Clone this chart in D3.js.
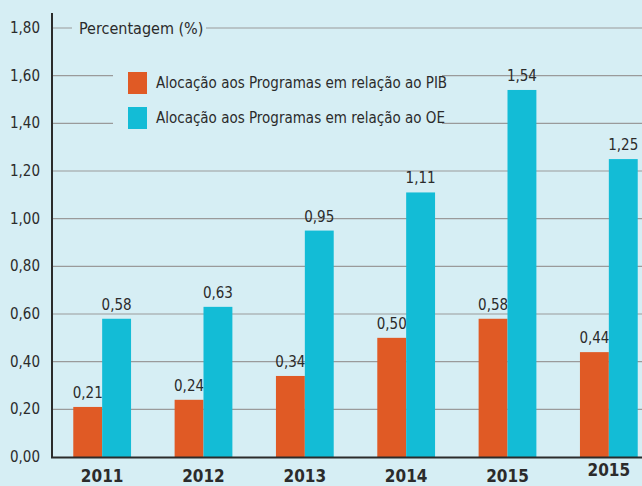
<!DOCTYPE html>
<html>
<head>
  <meta charset="UTF-8">
  <style>
    body { margin: 0; background: #d6eef4; }
    svg { display: block; }
    text { font-family: "Liberation Sans Narrow", "DejaVu Sans Condensed", "Roboto", sans-serif; fill: #2b2b2b; }
  </style>
</head>
<body>
<div id="chart_div"></div>
<script src="https://d3js.org/d3.v7.min.js"></script>
<script>

let width = 642, height = 486;

// data
const years = ["2011", "2012", "2013", "2014", "2015", "2015 "];
const pibValues = [0.21, 0.24, 0.34, 0.50, 0.58, 0.44];
const oeValues = [0.58, 0.63, 0.95, 1.11, 1.54, 1.25];
const yTicks = [0, 0.2, 0.4, 0.6, 0.8, 1.0, 1.2, 1.4, 1.6, 1.8];
const seriesNames = ["Alocação aos Programas em relação ao PIB", "Alocação aos Programas em relação ao OE"];
const colors = ["#e05a25", "#13bcd6"];

let svg = d3.select("#chart_div")
    .append("svg")
    .attr("width", width)
    .attr("height", height);

svg.append("rect").attr("width", width).attr("height", height).attr("fill", "#d6eef4");

let x = d3.scaleBand()
    .domain(years)
    .range([52, 659])
    .paddingInner(0.43)
    .paddingOuter(0.21);

let y = d3.scaleLinear()
    .domain([0, 1.8])
    .range([457, 28]);

// gridlines
svg.append("g")
    .selectAll("line")
    .data(yTicks.filter(d => d > 0))
    .enter()
    .append("line")
    .attr("x1", 52).attr("x2", width)
    .attr("y1", d => y(d)).attr("y2", d => y(d))
    .attr("stroke", "#9a9a9a")
    .attr("stroke-width", 1.2);

// y tick labels
svg.append("g")
    .selectAll("text")
    .data(yTicks)
    .enter()
    .append("text")
    .attr("x", 40)
    .attr("y", d => y(d) + 5)
    .attr("text-anchor", "end")
    .style("font-size", "15px")
    .text(d => d3.format(".2f")(d).replace(".", ","));

// title box over the top gridline
svg.append("rect")
    .attr("x", 72).attr("y", 16).attr("width", 134).attr("height", 24)
    .attr("fill", "#d6eef4");
svg.append("text")
    .attr("x", 79).attr("y", 34)
    .style("font-size", "16px")
    .text("Percentagem (%)");

// legend
svg.append("rect")
    .attr("x", 113).attr("y", 62).attr("width", 329).attr("height", 76)
    .attr("fill", "#d6eef4");
let legend = svg.append("g")
    .selectAll("g")
    .data(seriesNames)
    .enter()
    .append("g")
    .attr("transform", (d, i) => "translate(128," + (72 + i * 35) + ")");
legend.append("rect")
    .attr("width", 19).attr("height", 22)
    .attr("fill", (d, i) => colors[i]);
legend.append("text")
    .attr("x", 28).attr("y", 16)
    .style("font-size", "15px")
    .text(d => d);

// bars
let groups = svg.append("g")
    .selectAll("g")
    .data(years)
    .enter()
    .append("g")
    .attr("transform", d => "translate(" + x(d) + ",0)");

let bw = x.bandwidth() / 2;

[pibValues, oeValues].forEach((vals, s) => {
  groups.append("rect")
      .attr("x", s * bw)
      .attr("y", (d, i) => y(vals[i]))
      .attr("width", bw)
      .attr("height", (d, i) => y(0) - y(vals[i]))
      .attr("fill", colors[s]);
  groups.append("text")
      .attr("x", s * bw + bw / 2)
      .attr("y", (d, i) => y(vals[i]) - 9)
      .attr("text-anchor", "middle")
      .style("font-size", "15px")
      .text((d, i) => d3.format(".2f")(vals[i]).replace(".", ","));
});

// year labels
groups.append("text")
    .attr("x", bw)
    .attr("y", (d, i) => i == years.length - 1 ? 476 : 482)
    .attr("text-anchor", "middle")
    .style("font-size", "17px")
    .style("font-weight", "bold")
    .text(d => d.trim());

// axes lines
svg.append("line")
    .attr("x1", 52).attr("x2", 52).attr("y1", 13).attr("y2", 458)
    .attr("stroke", "#2b2b2b").attr("stroke-width", 2);
svg.append("line")
    .attr("x1", 51).attr("x2", width).attr("y1", 457.5).attr("y2", 457.5)
    .attr("stroke", "#2b2b2b").attr("stroke-width", 2);

</script>
</body>
</html>
